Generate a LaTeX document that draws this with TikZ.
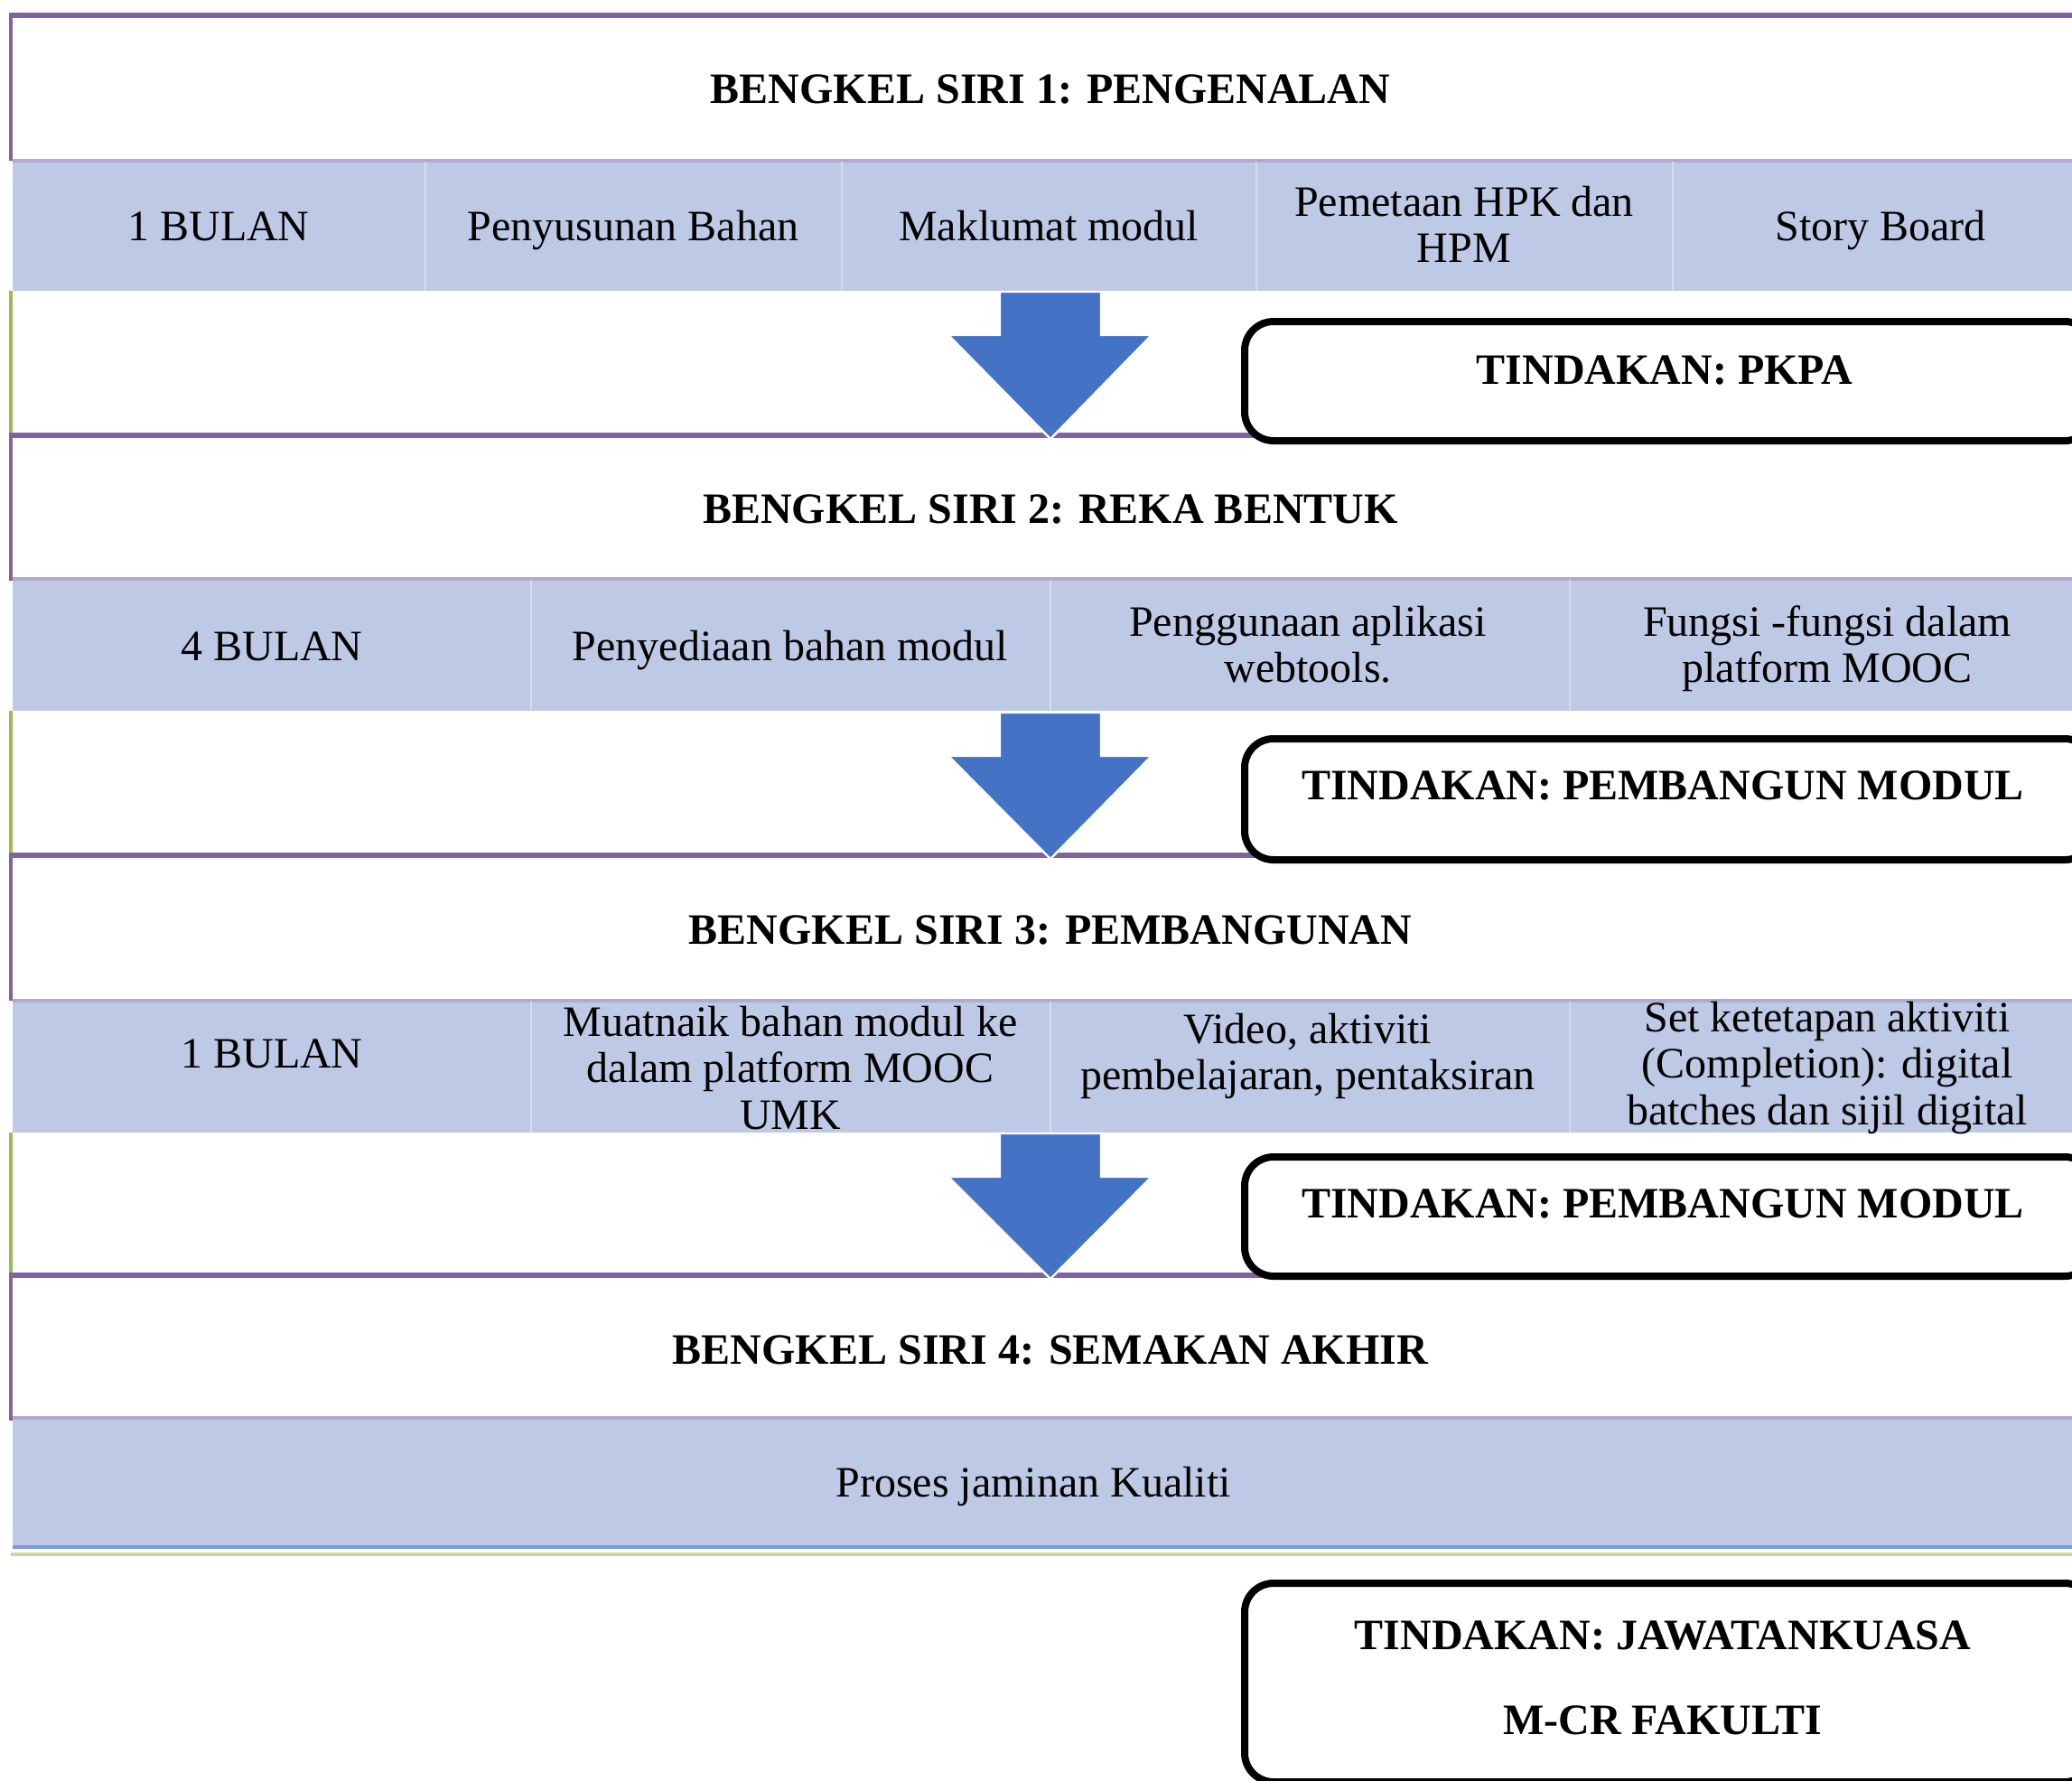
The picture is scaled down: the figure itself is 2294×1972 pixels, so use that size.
\documentclass[tikz,border=0pt]{standalone}
\usepackage{fontspec}
\setmainfont{Liberation Serif}
\usepackage{xcolor}
\definecolor{stage edge}{HTML}{8064A2}
\definecolor{band top}{HTML}{B4A8D0}
\definecolor{band area}{HTML}{BDC9E5}
\definecolor{cell rule}{HTML}{D3DBEF}
\definecolor{gap edge}{HTML}{9BBB59}
\definecolor{arrow area}{HTML}{4472C4}
\definecolor{end blue}{HTML}{7C9BD5}
\definecolor{end green}{HTML}{C6D89E}
\def\bandone  {(14,178)  rectangle (2320,322)}
\def\bandtwo  {(14,641)  rectangle (2320,787)}
\def\bandthree{(14,1108) rectangle (2320,1254)}
\def\bandfour {(14,1570) rectangle (2320,1712)}
\tikzset{stage/.style={draw=stage edge, line width=1.3pt},
    side/.style={draw=stage edge, line width=0.8pt},
    gapside/.style={draw=gap edge, line width=0.8pt},
    band/.style={fill=band area},
    bandline/.style={draw=band top, line width=0.9pt},
    cellrule/.style={draw=cell rule, line width=0.6pt},
    header/.style={font=\fontsize{12}{13}\selectfont\bfseries},
    cell/.style={align=center, inner sep=0pt, font=\fontsize{12}{12.8}\selectfont,
        execute at begin node=\strut, execute at end node=\strut},
    tindakan/.style={draw=black, line width=2pt, rounded corners=8pt, fill=white},
    action/.style={align=center, font=\fontsize{12}{13}\selectfont\bfseries},
    bigarrow/.style={fill=arrow area, draw=white, line width=0.6pt}}
\newcommand\flowarrow[2]{%
  \filldraw[bigarrow] (1107,#1) -- (1219,#1) -- (1219,#1+48) -- (1275,#1+48)
    -- (1163,#2) -- (1050,#1+48) -- (1107,#1+48) -- cycle;}

\begin{document}
\begin{tikzpicture}[x=0.25pt, y=-0.25pt]
    \useasboundingbox (0,0) rectangle (2294,1972);
    % bands
    \fill[band] \bandone;
    \fill[band] \bandtwo;
    \fill[band] \bandthree;
    \fill[band] \bandfour;
    \foreach \y in {178,641,1108,1570}
      \draw[bandline] (14,\y) -- (2320,\y);
    \foreach \x in {471,932,1391,1852}
      \draw[cellrule] (\x,179) -- (\x,322);
    \foreach \x in {588,1163,1738}
      \draw[cellrule] (\x,642) -- (\x,787) (\x,1109) -- (\x,1254);
    \draw[end blue, line width=0.9pt] (14,1713) -- (2320,1713);
    \draw[end green, line width=1.2pt] (12,1721) -- (2320,1721);
    % left edges
    \foreach \t in {17,482,947,1412}
      \draw[side] (12,\t) -- (12,\t+161);
    \foreach \t/\b in {322/482,787/947,1254/1412}
      \draw[gapside] (12,\t) -- (12,\b);
    % stage rules
    \foreach \t in {17,482,947,1412}
      \draw[stage] (10,\t) -- (2320,\t);

    % arrows
    \flowarrow{323}{486}
    \flowarrow{789}{951}
    \flowarrow{1255}{1416}

    % siri 1
    \node[header] (siri1) at (1163,99) {BENGKEL SIRI 1: PENGENALAN};
    \node[cell] (bulan1) at (242,256) {1 BULAN};
    \node[cell] (susun) at (701,256) {Penyusunan Bahan};
    \node[cell] (maklumat) at (1161,256) {Maklumat modul};
    \node[cell] (peta) at (1621,256) {Pemetaan HPK dan\\HPM};
    \node[cell] (story) at (2082,256) {Story Board};
    \node[tindakan, anchor=north west, minimum width=235pt, minimum height=33pt]
      (pkpa) at (1374,352) {};
    \node[action] (pkpatext) at (1843,410) {TINDAKAN: PKPA};

    % siri 2
    \node[header] (siri2) at (1163,564) {BENGKEL SIRI 2: REKA BENTUK};
    \node[cell] (bulan2) at (301,721) {4 BULAN};
    \node[cell] (sedia) at (875,721) {Penyediaan bahan modul};
    \node[cell] (guna) at (1448,721) {Penggunaan aplikasi\\webtools.};
    \node[cell] (fungsi) at (2023,721) {Fungsi -fungsi dalam\\platform MOOC};
    \node[tindakan, anchor=north west, minimum width=235pt, minimum height=33.5pt]
      (bina1) at (1374,814) {};
    \node[action] (bina1text) at (1841,870) {TINDAKAN: PEMBANGUN MODUL};

    % siri 3
    \node[header] (siri3) at (1163,1030) {BENGKEL SIRI 3: PEMBANGUNAN};
    \node[cell] (bulan3) at (301,1172) {1 BULAN};
    \node[cell] (muat) at (875,1190) {Muatnaik bahan modul ke\\dalam platform MOOC\\UMK};
    \node[cell] (video) at (1448,1172) {Video, aktiviti\\pembelajaran, pentaksiran};
    \node[cell] (set) at (2023,1185) {Set ketetapan aktiviti\\(Completion): digital\\batches dan sijil digital};
    \node[tindakan, anchor=north west, minimum width=235pt, minimum height=33pt]
      (bina2) at (1374,1277) {};
    \node[action] (bina2text) at (1841,1333) {TINDAKAN: PEMBANGUN MODUL};

    % siri 4
    \node[header] (siri4) at (1163,1495) {BENGKEL SIRI 4: SEMAKAN AKHIR};
    \node[cell] (proses) at (1144,1647) {Proses jaminan Kualiti};
    \node[tindakan, anchor=north west, minimum width=235pt, minimum height=55pt]
      (jk) at (1374,1749) {};
    \node[action] (jktext) at (1841,1811) {TINDAKAN: JAWATANKUASA};
    \node[action] (mcr) at (1841,1905) {M-CR FAKULTI};
\end{tikzpicture}
\end{document}
